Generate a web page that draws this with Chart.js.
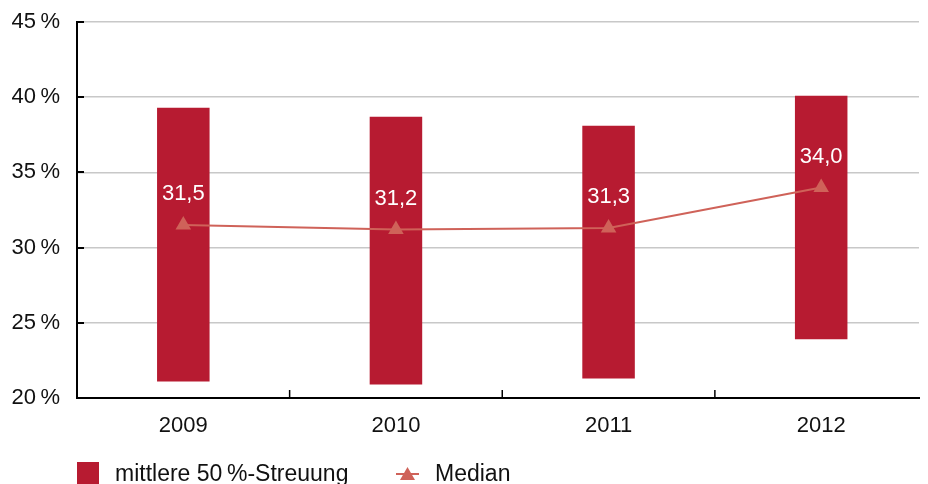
<!DOCTYPE html>
<html>
<head>
<meta charset="utf-8">
<script src="https://cdn.jsdelivr.net/npm/chart.js@4"></script>
<style>
  html, body { margin: 0; padding: 0; background: #fff; overflow: hidden; }
  #streuungChart { display: block; }
</style>
</head>
<body>
<canvas id="streuungChart" width="928" height="484"></canvas>
<script>
// Daten aus der Grafik
const jahre = ['2009', '2010', '2011', '2012'];
const quartilUnten = [21.1, 20.9, 21.3, 23.9];
const quartilOben = [39.3, 38.7, 38.1, 40.1];
const median = [31.5, 31.2, 31.3, 34.0];
const yTicks = [20, 25, 30, 35, 40, 45];

// Sichtbarer Bereich der x-Achse (rechts angeschnitten wie im Original)
const xMin = -0.5;
const xMax = 3.46;

const barColor = '#B71B31';
const lineColor = '#CF6259';
const fontFamily = '"Liberation Sans", Arial, Helvetica, sans-serif';

/**
 * Kleine Markierungen nach innen an den Achsen
 */
const innerTicks = {
    id: 'innerTicks',
    afterDraw(chart) {
        const ctx = chart.ctx;
        const area = chart.chartArea;
        const x = chart.scales.x;
        const y = chart.scales.y;
        ctx.save();
        ctx.strokeStyle = '#000';
        ctx.lineWidth = 2;
        yTicks.forEach(v => {
            if (v === yTicks[0]) return;
            const py = Math.round(y.getPixelForValue(v));
            ctx.beginPath();
            ctx.moveTo(area.left, py);
            ctx.lineTo(area.left + 7, py);
            ctx.stroke();
        });
        ctx.lineWidth = 1.5;
        for (let i = 0; i < jahre.length - 1; i++) {
            const px = x.getPixelForValue(i + 0.5);
            ctx.beginPath();
            ctx.moveTo(px, area.bottom);
            ctx.lineTo(px, area.bottom - 8);
            ctx.stroke();
        }
        ctx.restore();
    }
};

/**
 * Werte des Medians ueber den Punkten
 */
const medianLabels = {
    id: 'medianLabels',
    afterDatasetsDraw(chart) {
        const ctx = chart.ctx;
        const meta = chart.getDatasetMeta(1);
        ctx.save();
        ctx.fillStyle = '#fff';
        ctx.font = '22px ' + fontFamily;
        ctx.textAlign = 'center';
        ctx.textBaseline = 'middle';
        meta.data.forEach((pt, i) => {
            ctx.fillText(median[i].toFixed(1).replace('.', ','), pt.x, pt.y - 31);
        });
        ctx.restore();
    }
};

/**
 * Legende unten links
 */
const legendUnten = {
    id: 'legendUnten',
    afterDraw(chart) {
        const ctx = chart.ctx;
        const area = chart.chartArea;
        const top = area.bottom + 64;
        ctx.save();
        ctx.font = '23px ' + fontFamily;
        ctx.textBaseline = 'middle';
        ctx.fillStyle = barColor;
        ctx.fillRect(area.left, top, 22, 22);
        ctx.fillStyle = '#111';
        ctx.fillText(chart.data.datasets[0].label, area.left + 38, top + 13);

        const lx = area.left + 319;
        const ly = top + 12;
        ctx.strokeStyle = lineColor;
        ctx.lineWidth = 2;
        ctx.beginPath();
        ctx.moveTo(lx, ly);
        ctx.lineTo(lx + 23, ly);
        ctx.stroke();
        ctx.fillStyle = lineColor;
        ctx.beginPath();
        ctx.moveTo(lx + 11.5, ly - 7);
        ctx.lineTo(lx + 19, ly + 6);
        ctx.lineTo(lx + 4, ly + 6);
        ctx.closePath();
        ctx.fill();
        ctx.fillStyle = '#111';
        ctx.fillText(chart.data.datasets[1].label, lx + 39, top + 13);
        ctx.restore();
    }
};

document.addEventListener('DOMContentLoaded', function() {
    const ctx = document.getElementById('streuungChart').getContext('2d');

    new Chart(ctx, {
        type: 'bar',
        data: {
            datasets: [
                {
                    label: 'mittlere 50\u202F%-Streuung',
                    data: jahre.map((j, i) => ({ x: i, y: [quartilUnten[i], quartilOben[i]] })),
                    backgroundColor: barColor,
                    borderWidth: 0,
                    categoryPercentage: 1,
                    barPercentage: 0.247,
                    order: 2
                },
                {
                    type: 'line',
                    label: 'Median',
                    data: median.map((v, i) => ({ x: i, y: v })),
                    borderColor: lineColor,
                    borderWidth: 2,
                    backgroundColor: lineColor,
                    pointStyle: 'triangle',
                    pointRadius: 9,
                    pointBorderWidth: 0,
                    tension: 0,
                    order: 1
                }
            ]
        },
        plugins: [innerTicks, medianLabels, legendUnten],
        options: {
            responsive: false,
            maintainAspectRatio: false,
            devicePixelRatio: 1,
            animation: false,
            layout: {
                padding: { top: 22, right: 0, bottom: 0, left: 0 }
            },
            plugins: {
                legend: { display: false },
                tooltip: { enabled: false }
            },
            scales: {
                x: {
                    type: 'linear',
                    min: xMin,
                    max: xMax,
                    offset: false,
                    afterBuildTicks(scale) {
                        scale.ticks = jahre.map((j, i) => ({ value: i }));
                    },
                    afterFit(scale) {
                        scale.height = 86;
                        scale.paddingLeft = 0;
                        scale.paddingRight = 0;
                    },
                    grid: { display: false, drawTicks: false },
                    border: { display: true, color: '#000', width: 2 },
                    ticks: {
                        color: '#111',
                        padding: 15,
                        font: { family: fontFamily, size: 22 },
                        callback: v => jahre[v]
                    }
                },
                y: {
                    min: 20,
                    max: 45,
                    afterFit(scale) {
                        scale.width = 77;
                        scale.paddingTop = 0;
                        scale.paddingBottom = 0;
                    },
                    afterBuildTicks(scale) {
                        scale.ticks = yTicks.map(v => ({ value: v }));
                    },
                    grid: { color: '#C8C8C8', lineWidth: 1.5, drawTicks: false },
                    border: { display: true, color: '#000', width: 2 },
                    ticks: {
                        color: '#111',
                        padding: 17,
                        font: { family: fontFamily, size: 22 },
                        callback: v => v + '\u2009%'
                    }
                }
            }
        }
    });
});
</script>
</body>
</html>
